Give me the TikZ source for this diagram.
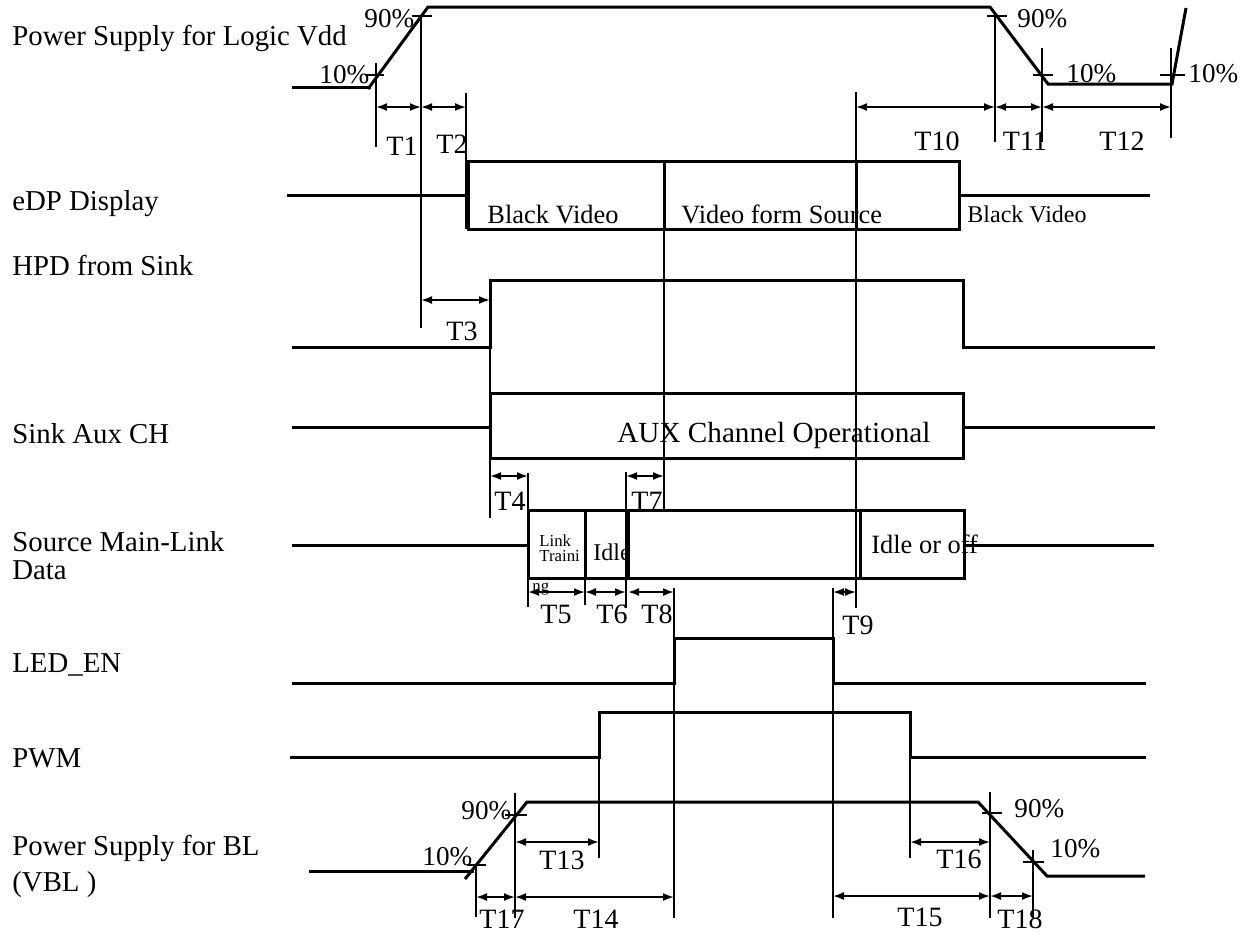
\documentclass[tikz,border=0pt]{standalone}
\usepackage{fontspec}
\setmainfont{Liberation Serif}
\usetikzlibrary{arrows.meta}
\begin{document}
\begin{tikzpicture}[x=0.5pt,y=-0.5pt,
  sig/.style={line width=1.5pt, line join=miter},
  vline/.style={line width=0.9pt},
  dim/.style={line width=0.9pt, {Latex[length=5.5pt,width=4pt]}-{Latex[length=5.5pt,width=4pt]}},
  lbl/.style={anchor=base west, inner sep=0, font=\fontsize{14.4}{16}\selectfont},
  tl/.style={inner sep=0, anchor=base, font=\fontsize{14}{16}\selectfont},
  pct/.style={inner sep=0, anchor=base west, font=\fontsize{13.6}{15}\selectfont},
  boxt/.style={inner sep=0, anchor=base west, font=\fontsize{13.2}{15}\selectfont},
  small/.style={inner sep=0, anchor=base west, font=\fontsize{8.4}{9}\selectfont}]
\useasboundingbox (0,0) rectangle (1252,933);
\fill[white] (0,0) rectangle (1252,933);

% ---------- row labels ----------
\node[lbl] (l1) at (12,45) {Power Supply for Logic Vdd};
\node[lbl] (l2) at (12,210) {eDP Display};
\node[lbl] (l3) at (12,275) {HPD from Sink};
\node[lbl] (l4) at (12,443) {Sink Aux CH};
\node[lbl] (l5a) at (12,551) {Source Main-Link};
\node[lbl] (l5b) at (12,579) {Data};
\node[lbl] (l6) at (12,672) {LED\_EN};
\node[lbl] (l7) at (12,767) {PWM};
\node[lbl] (l8a) at (12,855) {Power Supply for BL};
\node[lbl] (l8b) at (12,891) {(VBL )};

% ---------- row 1: Vdd ----------
\draw[sig] (292,87) -- (371,87);
\draw[sig] (368,89) -- (428,7) -- (990,7) -- (1048,84) -- (1172,84) -- (1186,8);
\draw[vline] (365,75) -- (384,75);
\draw[vline] (376,63) -- (376,147);
\draw[vline] (412,16) -- (432,16);
\draw[vline] (421,15) -- (421,328);
\draw[vline] (466,93) -- (466,229);
\draw[vline] (987,16) -- (1007,16);
\draw[vline] (995,15) -- (995,142);
\draw[vline] (1033,75) -- (1053,75);
\draw[vline] (1042,48) -- (1042,142);
\draw[vline] (1160,75) -- (1185,75);
\draw[vline] (1171,48) -- (1171,138);
\draw[vline] (856,92) -- (856,608);
\node[pct] (p1) at (364,27) {90\%};
\node[pct] (p2) at (319,83) {10\%};
\node[pct] (p3) at (1017,27) {90\%};
\node[pct] (p4) at (1066,82) {10\%};
\node[pct] (p5) at (1188,82) {10\%};
\draw[dim] (376,107) -- (421,107);
\draw[dim] (421,107) -- (466,107);
\draw[dim] (856,107) -- (995,107);
\draw[dim] (995,107) -- (1042,107);
\draw[dim] (1042,107) -- (1171,107);
\node[tl] (t1) at (402,155) {T1};
\node[tl] (t2) at (452,153) {T2};
\node[tl] (t10) at (937,150) {T10};
\node[tl] (t11) at (1025,150) {T11};
\node[tl] (t12) at (1122,150) {T12};

% ---------- row 2: eDP ----------
\draw[sig] (287,195) -- (468,195);
\draw[sig] (468,161) rectangle (959,229);
\draw[sig] (664,161) -- (664,229);
\draw[sig] (856,161) -- (856,229);
\draw[sig] (959,195) -- (1150,195);
\draw[vline] (664,229) -- (664,510);
\node[boxt] (b1) at (487,223) {Black Video};
\node[boxt] (b2) at (681,223) {Video form Source};
\node[boxt, font=\fontsize{12}{14}\selectfont] (b3) at (967,222) {Black Video};

% ---------- row 3: HPD ----------
\draw[sig] (292,347) -- (490,347) -- (490,280) -- (963,280) -- (963,347) -- (1155,347);
\draw[dim] (421,300) -- (490,300);
\node[tl] (t3) at (462,340) {T3};
\draw[vline] (490,347) -- (490,518);

% ---------- row 4: Aux ----------
\draw[sig] (292,427) -- (490,427);
\draw[sig] (490,393) rectangle (963,458);
\draw[sig] (963,427) -- (1155,427);
\node[inner sep=0, anchor=base west, font=\fontsize{14.6}{16}\selectfont] (aux) at (617,442) {AUX Channel Operational};
\draw[dim] (490,476) -- (528,476);
\node[tl] (t4) at (510,510) {T4};
\draw[vline] (528,473) -- (528,607);
\draw[vline] (626,472) -- (626,608);
\draw[dim] (626,476) -- (664,476);
\node[tl] (t7) at (647,510) {T7};

% ---------- row 5: Main link ----------
\draw[sig] (292,545) -- (528,545);
\draw[sig] (528,510) rectangle (964,578);
\draw[sig] (585,510) -- (585,578);
\draw[sig] (628,510) -- (628,578);
\draw[sig] (860,510) -- (860,578);
\draw[sig] (964,545) -- (1154,545);
\draw[vline] (585,578) -- (585,605);
\node[small] (lk1) at (539,546) {Link};
\node[small] (lk2) at (539,561) {Traini};
\node[small] (lk3) at (532,591) {ng};
\node[boxt, font=\fontsize{12}{14}\selectfont] (idle) at (593,560) {Idle};
\node[boxt] (idoff) at (871,553) {Idle or off};
\draw[dim] (528,592) -- (585,592);
\draw[dim] (585,592) -- (626,592);
\draw[dim] (628,592) -- (674,592);
\draw[dim] (833,592) -- (856,592);
\node[tl] (t5) at (556,623) {T5};
\node[tl] (t6) at (612,623) {T6};
\node[tl] (t8) at (657,623) {T8};
\node[tl] (t9) at (858,634) {T9};
\draw[vline] (674,588) -- (674,918);
\draw[vline] (833,588) -- (833,918);

% ---------- row 6: LED_EN ----------
\draw[sig] (292,683) -- (674,683) -- (674,638) -- (833,638) -- (833,683) -- (1146,683);

% ---------- row 7: PWM ----------
\draw[sig] (290,757) -- (599,757) -- (599,712) -- (910,712) -- (910,757) -- (1146,757);

% ---------- row 8: VBL ----------
\draw[sig] (309,871) -- (474,871);
\draw[sig] (465,879) -- (527,802) -- (978,802) -- (1047,876) -- (1145,876);
\draw[vline] (467,865) -- (486,865);
\draw[vline] (476,865) -- (476,917);
\draw[vline] (505,815) -- (527,815);
\draw[vline] (515,793) -- (515,918);
\draw[vline] (982,813) -- (1002,813);
\draw[vline] (990,792) -- (990,918);
\draw[vline] (1023,862) -- (1044,862);
\draw[vline] (1033,850) -- (1033,918);
\node[pct] (p6) at (461,819) {90\%};
\node[pct] (p7) at (422,865) {10\%};
\node[pct] (p8) at (1014,817) {90\%};
\node[pct] (p9) at (1050,857) {10\%};
\draw[vline] (599,757) -- (599,858);
\draw[vline] (910,757) -- (910,858);
\draw[dim] (515,842) -- (599,842);
\draw[dim] (910,842) -- (990,842);
\draw[dim] (476,897) -- (515,897);
\draw[dim] (515,897) -- (674,897);
\draw[dim] (833,896) -- (990,896);
\draw[dim] (990,896) -- (1033,896);
\node[tl] (t13) at (562,869) {T13};
\node[tl] (t16) at (959,868) {T16};
\node[tl] (t17) at (502,928) {T17};
\node[tl] (t14) at (596,928) {T14};
\node[tl] (t15) at (920,926) {T15};
\node[tl] (t18) at (1020,928) {T18};
\end{tikzpicture}
\end{document}
